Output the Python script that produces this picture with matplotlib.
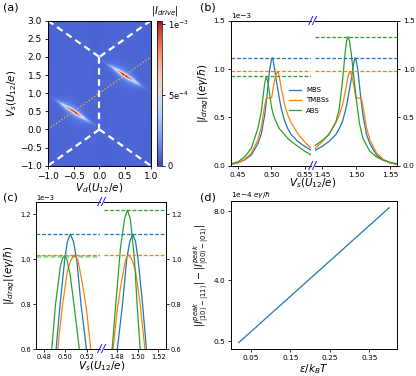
import numpy as np
import matplotlib
matplotlib.use('Agg')
import matplotlib.pyplot as plt

plt.rcParams['font.family'] = 'DejaVu Sans'
plt.rcParams['mathtext.fontset'] = 'dejavusans'
plt.rcParams['font.size'] = 5.3
plt.rcParams['axes.linewidth'] = 0.7
plt.rcParams['xtick.major.size'] = 2.5
plt.rcParams['ytick.major.size'] = 2.5
plt.rcParams['xtick.major.width'] = 0.6
plt.rcParams['ytick.major.width'] = 0.6
plt.rcParams['xtick.major.pad'] = 1.8
plt.rcParams['ytick.major.pad'] = 1.8

C_BLUE, C_ORANGE, C_GREEN = 'tab:blue', 'tab:orange', 'tab:green'

# ---------------- (a) drive current map ----------------
blob_vd = [-0.5, 0.5]
blob_vs = [0.5, 1.5]
blob_peak = [0.98e-3, 1.0e-3]
blob_slope = -0.9
blob_width = 0.04
blob_length = 0.22
background = 6e-5

border_vd = [[-1, 0], [1, 0], [0, 0], [0, -1], [0, 1]]
border_vs = [[3, 2], [3, 2], [2, 0], [0, -1], [0, -1]]
diag_vd = [-1.0, 1.0]
diag_vs = [0.0, 2.0]

# ---------------- (b) drag current, wide window ----------------
b_x_left = [0.44, 0.45, 0.46, 0.47, 0.48, 0.485, 0.49, 0.4925, 0.495, 0.4975, 0.50, 0.5015,
            0.5025, 0.505, 0.5075, 0.5095, 0.51, 0.5125, 0.515, 0.52, 0.525, 0.53, 0.54, 0.55, 0.56]
b_mbs_left = [0.014, 0.03, 0.06, 0.11, 0.23, 0.33, 0.52, 0.66, 0.82, 0.99, 1.09, 1.117,
              1.10, 1.00, 0.88, 0.80, 0.78, 0.68, 0.59, 0.46, 0.38, 0.32, 0.25, 0.20, 0.16]
b_tmbs_left = [0.012, 0.03, 0.065, 0.13, 0.27, 0.40, 0.62, 0.70, 0.70, 0.70, 0.70, 0.74,
               0.79, 0.89, 0.95, 0.975, 0.97, 0.90, 0.80, 0.63, 0.52, 0.44, 0.33, 0.245, 0.18]
b_abs_left = [0.02, 0.04, 0.09, 0.18, 0.39, 0.56, 0.85, 0.925, 0.86, 0.74, 0.62, 0.57,
              0.54, 0.49, 0.45, 0.42, 0.41, 0.38, 0.36, 0.32, 0.28, 0.25, 0.20, 0.15, 0.11]

b_x_right = [1.44, 1.45, 1.46, 1.47, 1.475, 1.48, 1.485, 1.4875, 1.49, 1.4905, 1.4925, 1.495,
             1.4975, 1.4985, 1.50, 1.5025, 1.505, 1.5075, 1.51, 1.515, 1.52, 1.53, 1.54, 1.55, 1.56]
b_mbs_right = [0.16, 0.20, 0.25, 0.32, 0.38, 0.46, 0.59, 0.68, 0.78, 0.80, 0.88, 1.00,
               1.10, 1.117, 1.09, 0.99, 0.82, 0.66, 0.52, 0.33, 0.23, 0.11, 0.06, 0.03, 0.014]
b_tmbs_right = [0.18, 0.245, 0.33, 0.44, 0.52, 0.63, 0.80, 0.90, 0.97, 0.975, 0.95, 0.89,
                0.79, 0.74, 0.70, 0.70, 0.70, 0.70, 0.62, 0.40, 0.27, 0.13, 0.065, 0.03, 0.012]
b_x_abs_right = [1.44, 1.45, 1.46, 1.47, 1.475, 1.48, 1.484, 1.486, 1.488, 1.490, 1.493, 1.496,
                 1.50, 1.505, 1.51, 1.52, 1.53, 1.54, 1.55, 1.56]
b_abs_right = [0.21, 0.26, 0.32, 0.45, 0.58, 0.88, 1.18, 1.29, 1.334, 1.30, 1.15, 0.95,
               0.70, 0.43, 0.28, 0.15, 0.09, 0.055, 0.035, 0.022]

b_peaks_left = [1.117, 0.975, 0.925]
b_peaks_right = [1.117, 0.975, 1.334]

# ---------------- (c) drag current, zoom on peaks ----------------
c_x_mbs_left = [0.486, 0.4915, 0.4952, 0.4995, 0.502, 0.5047, 0.5075, 0.5105, 0.5145, 0.5195, 0.525]
c_mbs_left = [0.30, 0.60, 0.80, 1.00, 1.08, 1.112, 1.08, 1.00, 0.80, 0.60, 0.30]
c_x_tmbs_left = [0.487, 0.493, 0.4975, 0.502, 0.5055, 0.5086, 0.5115, 0.5155, 0.5195, 0.5235, 0.529]
c_tmbs_left = [0.30, 0.60, 0.80, 0.95, 1.00, 1.02, 1.00, 0.90, 0.78, 0.60, 0.30]
c_x_abs_left = [0.482, 0.4875, 0.491, 0.4955, 0.4975, 0.4994, 0.5015, 0.5045, 0.508, 0.513, 0.518]
c_abs_left = [0.30, 0.60, 0.80, 0.97, 1.005, 1.016, 1.00, 0.93, 0.80, 0.60, 0.35]

c_x_mbs_right = [1.475, 1.4805, 1.4855, 1.4895, 1.4925, 1.4953, 1.498, 1.5005, 1.5048, 1.5085, 1.514]
c_mbs_right = [0.30, 0.60, 0.80, 1.00, 1.08, 1.112, 1.08, 1.00, 0.80, 0.60, 0.30]
c_x_tmbs_right = [1.471, 1.4765, 1.4805, 1.4845, 1.4885, 1.4914, 1.4945, 1.498, 1.5025, 1.507, 1.513]
c_tmbs_right = [0.30, 0.60, 0.78, 0.90, 1.00, 1.02, 1.00, 0.95, 0.80, 0.60, 0.30]
c_x_abs_right = [1.469, 1.4755, 1.479, 1.4835, 1.4875, 1.4902, 1.493, 1.497, 1.4995, 1.5025, 1.508]
c_abs_right = [0.30, 0.60, 0.80, 1.05, 1.18, 1.219, 1.18, 1.00, 0.80, 0.60, 0.30]

c_peaks_left = [1.112, 1.02, 1.013]
c_peaks_right = [1.112, 1.02, 1.219]

# ---------------- (d) peak difference vs epsilon ----------------
d_eps = [0.02, 0.10, 0.20, 0.30, 0.40]
d_diff = [0.41, 2.05, 4.10, 6.15, 8.20]


def px_rect(x0, y0, x1, y1):
    W, H = 416.0, 376.0
    return [x0 / W, 1 - y1 / H, (x1 - x0) / W, (y1 - y0) / H]


fig = plt.figure(figsize=(4.16, 3.76), dpi=100)

# ---- (a)
ax_a = fig.add_axes(px_rect(48, 20.7, 150.7, 165.7))
cax = fig.add_axes(px_rect(156.7, 20.7, 162.3, 165.7))
vd = np.linspace(-1, 1, 201)
vs = np.linspace(-1, 3, 401)
VD, VS = np.meshgrid(vd, vs)
field = np.full(VD.shape, background)
for x0, y0, p in zip(blob_vd, blob_vs, blob_peak):
    dx = VD - x0
    across = (VS - y0) - blob_slope * dx
    field += p / (1 + (across / blob_width) ** 2) * np.exp(-(dx / blob_length) ** 2)
im = ax_a.imshow(field, origin='lower', extent=[-1, 1, -1, 3], aspect='auto',
                 cmap='coolwarm', vmin=0, vmax=1.025e-3, interpolation='nearest')
for xs, ys in zip(border_vd, border_vs):
    ax_a.plot(xs, ys, color='white', lw=1.6, ls=(0, (3, 2)))
ax_a.plot(diag_vd, diag_vs, color='#f2c31b', lw=0.9, ls=':')
ax_a.set_xlim(-1, 1)
ax_a.set_ylim(-1, 3)
ax_a.set_xticks([-1.0, -0.5, 0.0, 0.5, 1.0])
ax_a.set_yticks(np.arange(-1.0, 3.01, 0.5))
ax_a.tick_params(labelsize=6.5)
ax_a.set_xlabel('$V_d(U_{12}/e)$', fontsize=7.5, labelpad=0.5)
ax_a.set_ylabel('$V_s(U_{12}/e)$', fontsize=7.5, labelpad=1)
cb = fig.colorbar(im, cax=cax, ticks=[0, 5e-4, 1e-3])
cb.ax.set_yticklabels(['0', '5e$^{-4}$', '1e$^{-3}$'])
cb.ax.tick_params(labelsize=6, length=2)
cb.outline.set_linewidth(0.5)
fig.text(165 / 416, 1 - 11 / 376, '$|I_{drive}|$', ha='center', va='center', fontsize=7)

# ---- (b)
ax_b1 = fig.add_axes(px_rect(231.3, 20.7, 311.3, 165.7))
ax_b2 = fig.add_axes(px_rect(315.3, 20.7, 397, 165.7), sharey=ax_b1)
ax_b2.patch.set_visible(False)
ax_b1.plot(b_x_left, b_mbs_left, color=C_BLUE, lw=0.9, label='MBS')
ax_b1.plot(b_x_left, b_tmbs_left, color=C_ORANGE, lw=0.9, label='TMBSs')
ax_b1.plot(b_x_left, b_abs_left, color=C_GREEN, lw=0.9, label='ABS')
ax_b2.plot(b_x_right, b_mbs_right, color=C_BLUE, lw=0.9)
ax_b2.plot(b_x_right, b_tmbs_right, color=C_ORANGE, lw=0.9)
ax_b2.plot(b_x_abs_right, b_abs_right, color=C_GREEN, lw=0.9)
for ax, peaks in ((ax_b1, b_peaks_left), (ax_b2, b_peaks_right)):
    for v, c in zip(peaks, (C_BLUE, C_ORANGE, C_GREEN)):
        ax.axhline(v, color=c, lw=0.9, ls=(0, (3, 1.5)))
ax_b1.set_xlim(0.44, 0.56)
ax_b2.set_xlim(1.44, 1.56)
ax_b1.set_ylim(0, 1.5)
ax_b1.set_xticks([0.45, 0.50, 0.55])
ax_b2.set_xticks([1.45, 1.50, 1.55])
ax_b1.set_yticks([0.0, 0.5, 1.0, 1.5])
ax_b1.spines['right'].set_visible(False)
ax_b2.spines['left'].set_visible(False)
ax_b2.yaxis.tick_right()
ax_b1.set_ylabel(r'$|I_{drag}|(e\gamma/\hbar)$', fontsize=7.5, labelpad=2)
ax_b1.text(0.0, 1.01, '1e\u22123', transform=ax_b1.transAxes, fontsize=5.3, va='bottom')
ax_b1.legend(loc='center left', bbox_to_anchor=(0.64, 0.45), frameon=False, fontsize=5,
             handlelength=1.8, handletextpad=0.7, labelspacing=0.6)
fig.text(313 / 416, 1 - 183 / 376, '$V_s(U_{12}/e)$', ha='center', va='center', fontsize=7.5)

# ---- (c)
ax_c1 = fig.add_axes(px_rect(36, 202, 100, 349.3))
ax_c2 = fig.add_axes(px_rect(104.3, 202, 165.7, 349.3), sharey=ax_c1)
ax_c2.patch.set_visible(False)
ax_c1.plot(c_x_mbs_left, c_mbs_left, color=C_BLUE, lw=0.9)
ax_c1.plot(c_x_tmbs_left, c_tmbs_left, color=C_ORANGE, lw=0.9)
ax_c1.plot(c_x_abs_left, c_abs_left, color=C_GREEN, lw=0.9)
ax_c2.plot(c_x_mbs_right, c_mbs_right, color=C_BLUE, lw=0.9)
ax_c2.plot(c_x_tmbs_right, c_tmbs_right, color=C_ORANGE, lw=0.9)
ax_c2.plot(c_x_abs_right, c_abs_right, color=C_GREEN, lw=0.9)
ax_c1.axhline(c_peaks_left[0], color=C_BLUE, lw=0.9, ls=(0, (3, 1.5)))
ax_c1.axhline(c_peaks_left[2], color=C_GREEN, lw=1.8, alpha=0.5, ls=(0, (2, 0.8)))
ax_c1.axhline(c_peaks_left[1], color=C_ORANGE, lw=0.9, ls=(0, (3, 1.5)))
for v, c in zip(c_peaks_right, (C_BLUE, C_ORANGE, C_GREEN)):
    ax_c2.axhline(v, color=c, lw=0.9, ls=(0, (3, 1.5)))
ax_c1.set_xlim(0.473, 0.532)
ax_c2.set_xlim(1.468, 1.527)
ax_c1.set_ylim(0.6, 1.255)
ax_c1.set_xticks([0.48, 0.50, 0.52])
ax_c2.set_xticks([1.48, 1.50, 1.52])
ax_c1.set_yticks([0.6, 0.8, 1.0, 1.2])
ax_c1.tick_params(labelsize=4.8, pad=1.2)
ax_c2.tick_params(labelsize=4.8, pad=1.2)
ax_c1.spines['right'].set_visible(False)
ax_c2.spines['left'].set_visible(False)
ax_c2.yaxis.tick_right()
ax_c1.set_ylabel(r'$|I_{drag}|(e\gamma/\hbar)$', fontsize=7.5, labelpad=2)
ax_c1.text(0.0, 1.01, '1e\u22123', transform=ax_c1.transAxes, fontsize=4.8, va='bottom')
fig.text(102 / 416, 1 - 366 / 376, '$V_s(U_{12}/e)$', ha='center', va='center', fontsize=7.5)

# ---- (d)
ax_d = fig.add_axes(px_rect(231.3, 201, 396.7, 349.3))
ax_d.plot(d_eps, d_diff, color=C_BLUE, lw=0.9)
ax_d.set_xticks([0.05, 0.15, 0.25, 0.35])
ax_d.set_yticks([0.5, 4.0, 8.0])
ax_d.set_xlabel(r'$\varepsilon/k_BT$', fontsize=7.5, labelpad=0.5)
ax_d.set_ylabel(r'$|I^{peak}_{|10\rangle-|11\rangle}|-|I^{peak}_{|00\rangle-|01\rangle}|$',
                fontsize=7, labelpad=2)
ax_d.text(0.0, 1.01, '1e\u22124 $e\\gamma/\\hbar$', transform=ax_d.transAxes, fontsize=5.3,
          va='bottom')

# break marks and panel labels
for bx, by in ((313, 20.7), (313, 165.7), (102, 202), (102, 349.3)):
    fig.text(bx / 416, 1 - by / 376, '//', color='#2a2aff', fontsize=7.5, fontweight='bold',
             style='italic', ha='center', va='center')
for lbl, lx, ly in (('(a)', 3, 8), ('(b)', 200, 8), ('(c)', 3, 198), ('(d)', 200, 198)):
    fig.text(lx / 416, 1 - ly / 376, lbl, fontsize=8, ha='left', va='center')

fig.savefig('out.png', dpi=100)
